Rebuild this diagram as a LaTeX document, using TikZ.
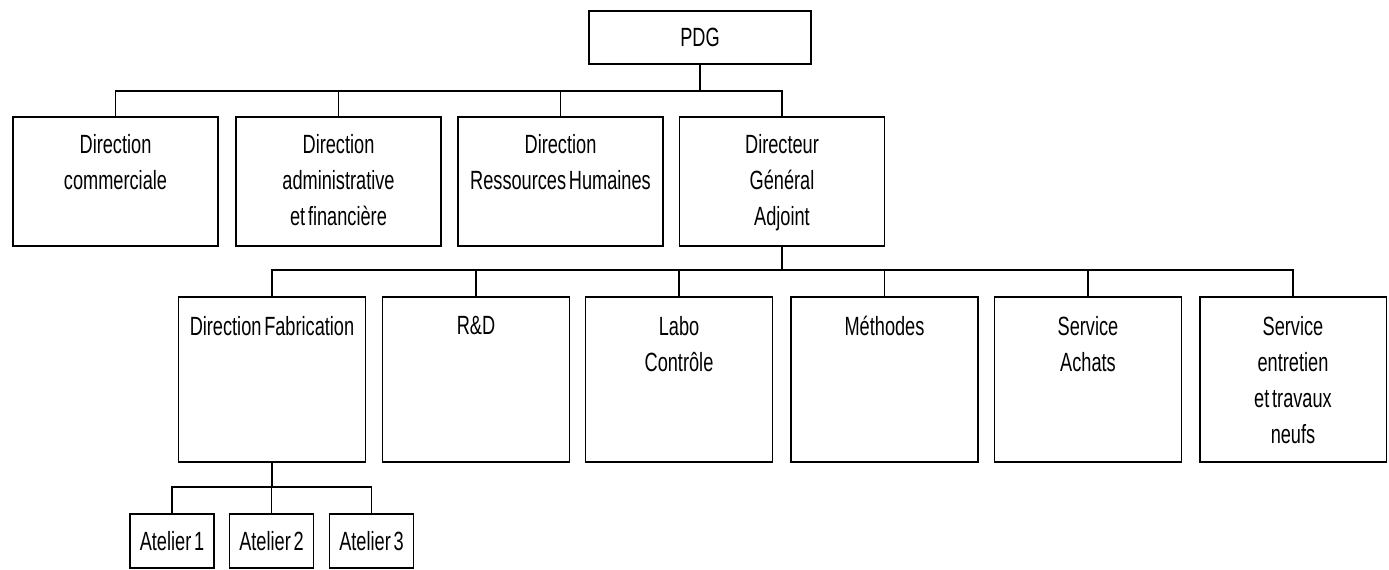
\documentclass[tikz,border=0pt]{standalone}
\usepackage{fontspec}
\setmainfont[FakeStretch=0.69, WordSpace=0.55]{Liberation Sans}
\newcommand{\orgfont}{\fontsize{15}{20.5}\selectfont}
\tikzset{
	unit/.style={draw, line width=1.1pt, inner sep=0pt, outer sep=0pt, font=\orgfont},
	lvlone/.style={unit, minimum width=4.1cm, minimum height=2.58cm},
	lvltwo/.style={unit, minimum width=3.74cm, minimum height=3.3cm},
	shop/.style={unit, minimum width=1.68cm, minimum height=1.08cm},
	boxtxt/.style={anchor=north, align=center, inner sep=0pt, font=\orgfont},
	link/.style={line width=1.1pt},
}
\begin{document}
\begin{tikzpicture}[x=0.02cm, y=-0.02cm]
				\useasboundingbox (0,0) rectangle (1389,569);
				\node[unit, minimum width=4.44cm, minimum height=1.06cm] (pdg) at (700,37.5) {PDG};
				\node[lvlone] (dcom) at (115.5,181.5) {};
				\node[lvlone] (dadm) at (338.5,181.5) {};
				\node[lvlone] (drh) at (560.5,181.5) {};
				\node[lvlone] (dga) at (782,181.5) {};
				\node[boxtxt] (dcom-t) at ([yshift=-0.34cm]dcom.north) {Direction\\commerciale};
				\node[boxtxt] (dadm-t) at ([yshift=-0.34cm]dadm.north) {Direction\\administrative\\et financière};
				\node[boxtxt] (drh-t) at ([yshift=-0.34cm]drh.north) {Direction\\Ressources Humaines};
				\node[boxtxt] (dga-t) at ([yshift=-0.34cm]dga.north) {Directeur\\Général\\Adjoint};
				\node[lvltwo] (dfab) at (272,379.5) {};
				\node[lvltwo] (rd) at (476,379.5) {};
				\node[lvltwo] (labo) at (679,379.5) {};
				\node[lvltwo] (meth) at (884.5,379.5) {};
				\node[lvltwo] (achats) at (1088,379.5) {};
				\node[lvltwo] (entr) at (1293,379.5) {};
				\node[boxtxt] (dfab-t) at ([yshift=-0.38cm]dfab.north) {Direction Fabrication};
				\node[boxtxt] (rd-t) at ([yshift=-0.38cm]rd.north) {R\&D};
				\node[boxtxt] (labo-t) at ([yshift=-0.38cm]labo.north) {Labo\\Contrôle};
				\node[boxtxt] (meth-t) at ([yshift=-0.38cm]meth.north) {Méthodes};
				\node[boxtxt] (achats-t) at ([yshift=-0.38cm]achats.north) {Service\\Achats};
				\node[boxtxt] (entr-t) at ([yshift=-0.38cm]entr.north) {Service\\entretien\\et travaux\\neufs};
				\node[shop] (at1) at (172,541) {Atelier 1};
				\node[shop] (at2) at (271.5,541) {Atelier 2};
				\node[shop] (at3) at (371.5,541) {Atelier 3};
				\coordinate (busa) at (700,91);
				\coordinate (busb) at (782,270);
				\coordinate (busc) at (272,487);
				\draw[link] (pdg) -- (busa);
				\foreach \n in {dcom,dadm,drh,dga} \draw[link] (busa) -| (\n.north);
				\draw[link] (dga) -- (busb);
				\foreach \n in {dfab,rd,labo,meth,achats,entr} \draw[link] (busb) -| (\n.north);
				\draw[link] (dfab) -- (busc);
				\foreach \n in {at1,at2,at3} \draw[link] (busc) -| (\n.north);
			\end{tikzpicture}
\end{document}
